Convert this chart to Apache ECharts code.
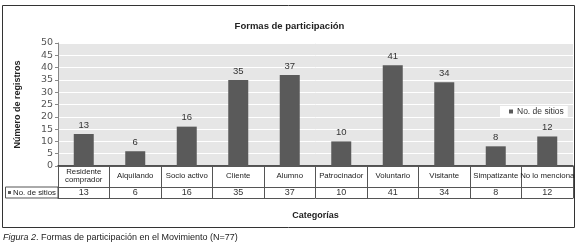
<!DOCTYPE html>
<html>
<head>
<meta charset="utf-8">
<script src="https://cdn.jsdelivr.net/npm/echarts@6/dist/echarts.min.js"></script>
<style>
  html, body { margin: 0; padding: 0; background: #fff; }
  #chart { width: 579px; height: 247px; }
</style>
</head>
<body>
<div id="chart"></div>
<script>
const categories = ['Residente\ncomprador', 'Alquilando', 'Socio activo', 'Cliente', 'Alumno',
  'Patrocinador', 'Voluntario', 'Visitante', 'Simpatizante', 'No lo menciona'];
const sitios = [13, 6, 16, 35, 37, 10, 41, 34, 8, 12];
const yTicks = {min: 0, max: 50, step: 5};
const seriesName = 'No. de sitios';

const FONT = "'Liberation Sans', Arial, sans-serif";

const chart = echarts.init(document.getElementById('chart'));
chart.setOption({
  animation: false,
  textStyle: {fontFamily: FONT},
  title: {
    text: 'Formas de participación',
    left: 'center',
    top: 16,
    textStyle: {fontSize: 9.5, fontWeight: 'bold', color: '#222', fontFamily: FONT}
  },
  legend: {
    data: [seriesName],
    left: 500,
    top: 106,
    backgroundColor: '#fff',
    padding: [1, 4, 1, 9],
    itemWidth: 4,
    itemHeight: 4,
    itemGap: 4,
    icon: 'rect',
    textStyle: {fontSize: 8.5, color: '#333', fontFamily: FONT, padding: [0, 0, 0, -1]}
  },
  grid: {
    left: 58, top: 43, right: 6, bottom: 81,
    show: true, backgroundColor: '#e6e6e6', borderWidth: 0
  },
  xAxis: [{
    type: 'category',
    data: categories,
    position: 'bottom',
    axisLine: {lineStyle: {color: '#222', width: 1.5}},
    axisTick: {show: true, interval: 0, length: 32, lineStyle: {color: '#555'}},
    axisLabel: {
      interval: 0, margin: 10, verticalAlign: 'middle', lineHeight: 8,
      fontSize: 7.8, color: '#222', fontFamily: FONT
    }
  }, {
    type: 'category',
    data: sitios.map(String),
    position: 'bottom',
    offset: 21,
    axisLine: {lineStyle: {color: '#555', width: 1}},
    axisTick: {show: false},
    axisLabel: {
      interval: 0, margin: 5.5, verticalAlign: 'middle',
      fontSize: 9, color: '#333', fontFamily: FONT
    }
  }, {
    type: 'category',
    data: categories,
    position: 'bottom',
    offset: 32,
    axisLine: {lineStyle: {color: '#555', width: 1}},
    axisTick: {show: false},
    axisLabel: {show: false},
    name: 'Categorías',
    nameLocation: 'middle',
    nameGap: 13,
    nameTextStyle: {fontSize: 9, fontWeight: 'bold', color: '#222', fontFamily: FONT}
  }],
  yAxis: {
    type: 'value',
    min: yTicks.min,
    max: yTicks.max,
    interval: yTicks.step,
    name: 'Número de registros',
    nameLocation: 'middle',
    nameGap: 36,
    nameTextStyle: {fontSize: 9, fontWeight: 'bold', color: '#222', fontFamily: FONT},
    axisLine: {show: true, lineStyle: {color: '#888'}},
    axisTick: {show: true, length: 3, lineStyle: {color: '#888'}},
    axisLabel: {fontSize: 9.5, color: '#555', margin: 5, fontFamily: "'DejaVu Sans', sans-serif"},
    splitLine: {lineStyle: {color: '#fff', width: 1}}
  },
  series: [{
    name: seriesName,
    type: 'bar',
    data: sitios,
    barWidth: 20,
    itemStyle: {color: '#5a5a5a'},
    label: {
      show: true, position: 'top', distance: 4,
      fontSize: 9.5, color: '#333', fontFamily: FONT
    }
  }],
  graphic: [
    {type: 'rect', shape: {x: 2.5, y: 5.5, width: 572, height: 222},
      style: {fill: 'none', stroke: '#333', lineWidth: 1}, silent: true},
    {type: 'rect', shape: {x: 5.5, y: 187, width: 52.5, height: 11},
      style: {fill: 'none', stroke: '#555', lineWidth: 1}, silent: true},
    {type: 'rect', shape: {x: 8, y: 191, width: 3, height: 3},
      style: {fill: '#5a5a5a'}, silent: true},
    {type: 'text', left: 13, top: 188.5,
      style: {text: seriesName, fill: '#222', font: "7.8px " + FONT}, silent: true},
    {type: 'text', left: 3, top: 233,
      style: {
        text: '{i|Figura 2}. Formas de participación en el Movimiento (N=77)',
        font: "9px 'Liberation Sans', sans-serif", fill: '#222',
        rich: {i: {fontStyle: 'italic', fontSize: 9, fontFamily: "'Liberation Sans', sans-serif", fill: '#222'}}
      }, silent: true}
  ]
});
</script>
</body>
</html>
